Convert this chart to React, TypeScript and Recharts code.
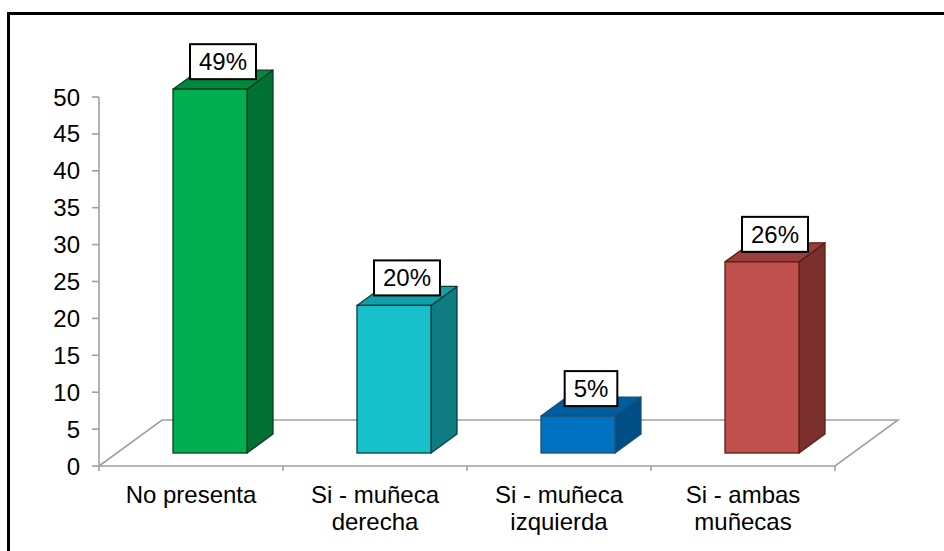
import React from 'react';
import * as R from 'recharts';
import { BarChart, Bar, XAxis, YAxis, Customized, LabelList } from 'recharts';

// ---- data ----
const categories = ['No presenta', 'Si - muñeca\nderecha', 'Si - muñeca\nizquierda', 'Si - ambas\nmuñecas'];
const values = [49.3, 20, 5, 25.9];
const yTicks = [0, 5, 10, 15, 20, 25, 30, 35, 40, 45, 50];

// ---- styles ----
const FONT = '"Liberation Sans", Arial, Helvetica, sans-serif';
const frontColors = ['#00B050', '#17C0CB', '#0070C0', '#C0504D'];
const topColors = ['#00893D', '#12A0A8', '#005D9F', '#983E3C'];
const sideColors = ['#007132', '#0E7C82', '#004E86', '#7B302E'];
const strokeColors = ['#0B3D20', '#0B3B3B', '#1F4F6F', '#5A2010'];
const GRID = '#A0A0A0';

const W = 944;
const H = 551;
const MARGIN = { top: 97, right: 109, bottom: 0, left: 39 };
const Y_AXIS_W = 60;
const X_AXIS_H = 85;

// 3D geometry (layout constants)
const FLOOR_DX = 63;
const FLOOR_DY = -46;
const BAR_SHIFT_X = 19;
const BAR_SHIFT_Y = -13;
const BAR_DX = 26;
const BAR_DY = -19;
const BAR_W = 74;

const data = categories.map((c, i) => ({ name: c, value: values[i] }));

function usePlot() {
  const hook = (R as any).usePlotArea;
  let pa: any = null;
  if (typeof hook === 'function') {
    pa = hook();
  }
  if (!pa) {
    const x = MARGIN.left + Y_AXIS_W;
    const y = MARGIN.top;
    return { x, y, width: W - MARGIN.right - x, height: H - MARGIN.bottom - X_AXIS_H - y };
  }
  return pa;
}

function Floor() {
  const { x, y, width, height } = usePlot();
  const bottom = y + height;
  const right = x + width;
  const n = categories.length;
  const bw = width / n;
  const pts = `${x},${bottom} ${x + FLOOR_DX},${bottom + FLOOR_DY} ${right + FLOOR_DX},${bottom + FLOOR_DY} ${right},${bottom}`;
  return (
    <g>
      <polygon points={pts} fill="none" stroke={GRID} strokeWidth={1.6} />
      {Array.from({ length: n + 1 }).map((_, i) => (
        <line key={i} x1={x + i * bw} y1={bottom} x2={x + i * bw} y2={bottom + 5} stroke={GRID} strokeWidth={1.6} />
      ))}
    </g>
  );
}

function Bar3D(props: any) {
  const { x, y, width, height, index } = props;
  if (x == null || y == null) return null;
  const w = width;
  const fx = x + BAR_SHIFT_X;
  const fy = y + BAR_SHIFT_Y;
  const h = height;
  const st = strokeColors[index];
  const top = `${fx},${fy} ${fx + BAR_DX},${fy + BAR_DY} ${fx + w + BAR_DX},${fy + BAR_DY} ${fx + w},${fy}`;
  const side = `${fx + w},${fy} ${fx + w + BAR_DX},${fy + BAR_DY} ${fx + w + BAR_DX},${fy + h + BAR_DY} ${fx + w},${fy + h}`;
  return (
    <g>
      <polygon points={side} fill={sideColors[index]} stroke={st} strokeWidth={1.3} strokeLinejoin="round" />
      <polygon points={top} fill={topColors[index]} stroke={st} strokeWidth={1.3} strokeLinejoin="round" />
      <rect x={fx} y={fy} width={w} height={h} fill={frontColors[index]} stroke={st} strokeWidth={1.3} />
    </g>
  );
}

function PctLabel(props: any) {
  const { x, y, width, value } = props;
  if (x == null || y == null) return null;
  const text = `${Math.round(Number(value))}%`;
  const digits = text.length - 1;
  const tw = digits * 13.35 + 21.3;
  const bw = tw + 18;
  const bh = 35;
  const cx = x + BAR_SHIFT_X + width / 2 + 13;
  const bottom = y + BAR_SHIFT_Y - 10;
  return (
    <g>
      <rect x={cx - bw / 2} y={bottom - bh} width={bw} height={bh} fill="#fff" stroke="#000" strokeWidth={2} />
      <text x={cx} y={bottom - 9} textAnchor="middle" fontFamily={FONT} fontSize={24} fill="#000">
        {text}
      </text>
    </g>
  );
}

function CatTick(props: any) {
  const { x, y, payload } = props;
  const lines = String(payload.value).split('\n');
  return (
    <text textAnchor="middle" fontFamily={FONT} fontSize={24} fill="#000">
      {lines.map((l, i) => (
        <tspan key={i} x={x} y={y + 37 + i * 27}>
          {l}
        </tspan>
      ))}
    </text>
  );
}

export default function App() {
  return (
    <div style={{ position: 'absolute', left: 0, top: 0, width: W, height: H, overflow: 'hidden', background: '#fff' }}>
      <div
        style={{
          position: 'absolute',
          left: 7,
          top: 12,
          width: 1000,
          height: 700,
          border: '3px solid #000',
          boxSizing: 'border-box',
        }}
      />
      <div style={{ position: 'absolute', left: 0, top: 0 }}>
        <BarChart width={W} height={H} data={data} margin={MARGIN} barSize={BAR_W}>
          <Customized component={<Floor />} />
          <XAxis
            dataKey="name"
            height={X_AXIS_H}
            axisLine={false}
            tickLine={false}
            tickSize={0}
            tickMargin={0}
            interval={0}
            tick={<CatTick />}
          />
          <YAxis
            width={Y_AXIS_W}
            domain={[0, 50]}
            ticks={yTicks}
            interval={0}
            axisLine={{ stroke: GRID, strokeWidth: 1.6 }}
            tickLine={{ stroke: GRID, strokeWidth: 1.6 }}
            tickSize={7}
            tickMargin={12}
            tick={{ fontFamily: FONT, fontSize: 24, fill: '#000' }}
          />
          <Bar dataKey="value" isAnimationActive={false} shape={<Bar3D />}>
            <LabelList dataKey="value" content={<PctLabel />} />
          </Bar>
        </BarChart>
      </div>
    </div>
  );
}
